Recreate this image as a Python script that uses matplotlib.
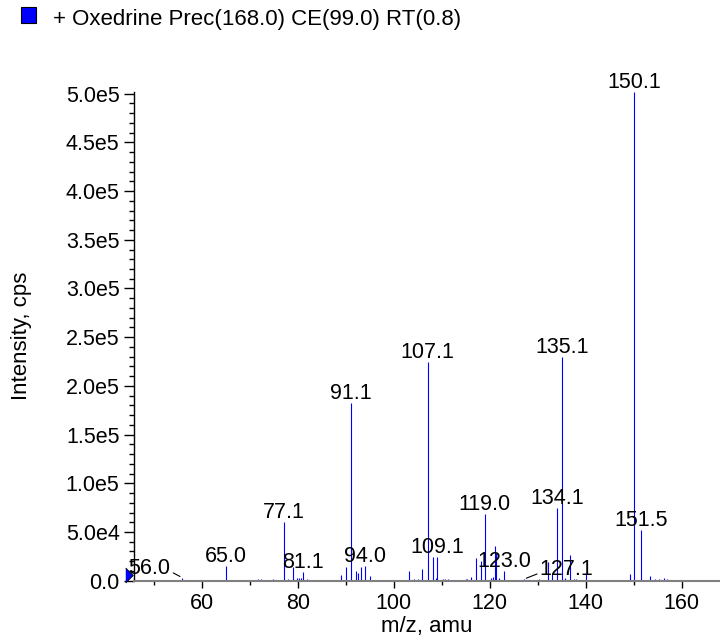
import numpy as np
import matplotlib
matplotlib.use('Agg')
import matplotlib.pyplot as plt
from matplotlib.patches import Rectangle
from matplotlib.ticker import MultipleLocator, FuncFormatter

plt.rcParams['font.family'] = ['Liberation Sans', 'DejaVu Sans']

# peak list (m/z, counts per second)
mz = [56.0, 56.4, 65.0, 67.1, 68.4, 70.0, 71.8, 72.3, 73.5, 74.9,
      77.1, 77.9, 79.1, 79.9, 80.3, 80.6, 81.1, 81.9, 86.3, 89.1,
      90.1, 91.1, 92.2, 92.5, 93.3, 94.0, 95.1, 103.1, 104.2, 105.0,
      106.0, 107.1, 108.1, 108.8, 109.1, 110.3, 110.6, 111.3, 114.1, 115.1,
      115.3, 116.1, 117.2, 118.2, 119.0, 120.3, 120.6, 121.1, 121.4, 122.0,
      123.0, 126.0, 127.1, 128.3, 129.4, 130.2, 132.1, 133.1, 134.1, 135.1,
      135.8, 136.7, 137.5, 138.0, 138.5, 139.2, 140.1, 149.2, 150.1, 151.5,
      153.4, 154.4, 155.2, 156.3, 157.0, 158.2]
intensity = [3.0e3, 1.0e3, 1.5e4, 1.0e3, 8e2, 8e2, 1.5e3, 1.5e3, 1.2e3, 1.5e3,
             6.0e4, 2.0e3, 1.4e4, 2.4e3, 3.1e3, 3.1e3, 8.6e3, 1.7e3, 1.0e3, 5.9e3,
             1.45e4, 1.82e5, 1.0e4, 8.3e3, 1.45e4, 1.5e4, 4.8e3, 1.0e4, 1.5e3, 1.5e3,
             1.2e4, 2.25e5, 2.4e4, 3.0e3, 2.4e4, 1.5e3, 2.0e3, 2.0e3, 1.2e3, 2.0e3,
             2.0e3, 3.5e3, 2.3e4, 2.05e4, 6.85e4, 3.0e3, 3.5e3, 3.55e4, 2.8e4, 3.0e3,
             1.0e4, 1.0e3, 1.5e3, 1.0e3, 1.0e3, 1.7e3, 1.95e4, 6.6e3, 7.45e4, 2.30e5,
             3.0e3, 2.6e4, 1.5e3, 1.5e3, 1.2e3, 1.2e3, 7.6e3, 6.9e3, 5.02e5, 5.2e4,
             4.8e3, 1.5e3, 1.5e3, 2.4e3, 1.5e3, 1.0e3]

labeled = [56.0, 65.0, 77.1, 81.1, 91.1, 94.0, 107.1, 109.1, 119.0,
           123.0, 127.1, 134.1, 135.1, 150.1, 151.5]
label_shift = {56.0: -33, 127.1: 43}   # labels moved aside with a leader line

legend_text = '+ Oxedrine Prec(168.0) CE(99.0) RT(0.8)'

fig = plt.figure(figsize=(7.2, 6.39), dpi=100)
ax = fig.add_axes([133.5/720, 1-580.7/639, (720-133.5)/720, (580.7-91.7)/639])

ax.vlines(mz, 0, intensity, color='#0000ff', linewidth=0.8)

ax.set_xlim(45.8, 168.0)
ax.set_ylim(0, 5.02e5)

for spine in ['top', 'right']:
    ax.spines[spine].set_visible(False)
ax.spines['bottom'].set_color('#808080')
ax.spines['bottom'].set_linewidth(1.5)
ax.spines['left'].set_linewidth(1.0)

ax.xaxis.set_major_locator(MultipleLocator(20))
ax.xaxis.set_minor_locator(MultipleLocator(10))
ax.yaxis.set_major_locator(MultipleLocator(5e4))
ax.yaxis.set_minor_locator(MultipleLocator(1e4))

def yfmt(v, pos):
    if v == 0:
        return '0.0'
    m, e = ('%.1e' % v).split('e')
    return '%se%d' % (m, int(e))
ax.yaxis.set_major_formatter(FuncFormatter(yfmt))

ax.tick_params(axis='x', which='major', length=5, width=1, labelsize=15.5, pad=4)
ax.tick_params(axis='x', which='minor', length=3, width=1)
ax.tick_params(axis='y', which='major', length=7, width=1, labelsize=15.5, pad=3)
ax.tick_params(axis='y', which='minor', length=3.5, width=1)

ax.set_xlabel('m/z, amu', fontsize=16, labelpad=1.5)
ax.set_ylabel('Intensity, cps', fontsize=16, labelpad=24)

for x, y in zip(mz, intensity):
    if x not in labeled:
        continue
    lbl = '%.1f' % x
    if x in label_shift:
        dx = label_shift[x]
        rel = (1, 0.35) if dx < 0 else (0, 0.35)
        ax.annotate(lbl, xy=(x, y), xytext=(dx, 4), textcoords='offset pixels',
                    ha='center', va='baseline', fontsize=15.5,
                    arrowprops=dict(arrowstyle='-', color='black', lw=0.8,
                                    relpos=rel, shrinkA=0, shrinkB=2))
    else:
        ax.annotate(lbl, xy=(x, y), xytext=(0, 4), textcoords='offset pixels',
                    ha='center', va='baseline', fontsize=15.5, annotation_clip=False)

# blue marker at the start of the axis
ax.plot([-0.0077], [5.8e3], marker=[(-0.5, -1), (0.5, 0), (-0.5, 1)],
        markersize=10.8, color='#0000ff', markeredgecolor='black',
        markeredgewidth=0.6, transform=ax.get_yaxis_transform(), clip_on=False)

# legend line on top
fig.patches.append(Rectangle((20.7/720, 1-23/639), 15/720, 15.5/639,
                             transform=fig.transFigure, facecolor='#0000ff',
                             edgecolor='black', linewidth=0.8))
fig.text(53/720, 1-25/639, legend_text, fontsize=16, va='baseline', ha='left')

fig.savefig('out.png', dpi=100)
